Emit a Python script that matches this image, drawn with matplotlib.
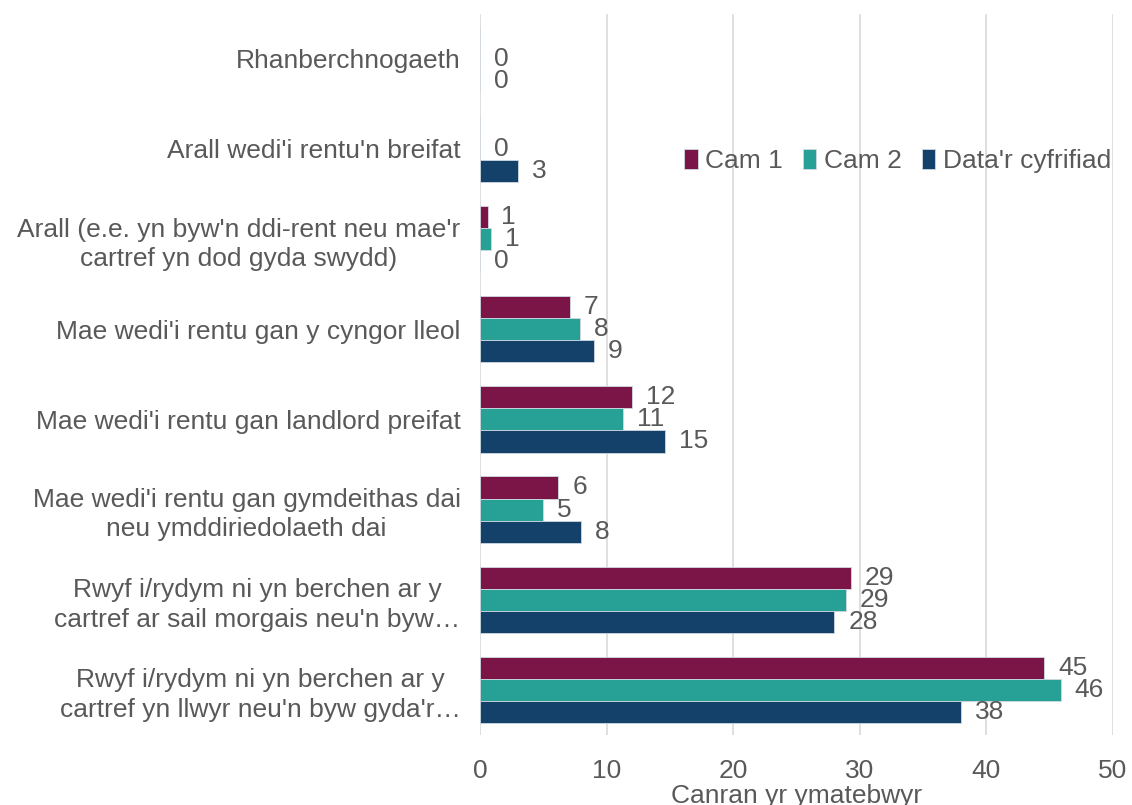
import numpy as np
import matplotlib.pyplot as plt

# categories, top to bottom
categories = [
    "Rhanberchnogaeth",
    "Arall wedi'i rentu'n breifat",
    "Arall (e.e. yn byw'n ddi-rent neu mae'r\ncartref yn dod gyda swydd)",
    "Mae wedi'i rentu gan y cyngor lleol",
    "Mae wedi'i rentu gan landlord preifat",
    "Mae wedi'i rentu gan gymdeithas dai\nneu ymddiriedolaeth dai",
    "Rwyf i/rydym ni yn berchen ar y\ncartref ar sail morgais neu'n byw…",
    "Rwyf i/rydym ni yn berchen ar y\ncartref yn llwyr neu'n byw gyda'r…",
]
series_names = ["Cam 1", "Cam 2", "Data'r cyfrifiad"]
cam1 = [np.nan, np.nan, 0.6, 7.1, 12.0, 6.2, 29.3, 44.6]
cam2 = [0.0, 0.0, 0.9, 7.9, 11.3, 5.0, 28.9, 45.9]
census = [0.0, 3.0, 0.0, 9.0, 14.6, 8.0, 28.0, 38.0]
colors = ["#7B1548", "#27A096", "#134169"]

plt.rcParams['font.family'] = ['Liberation Sans', 'DejaVu Sans']
text_col = "#595959"
fs = 19

fig = plt.figure(figsize=(11.32, 8.05), dpi=100)
ax = fig.add_axes([0.424, 0.087, 0.559, 0.896])

y = np.arange(len(categories))
h = 0.245
for k, (vals, name, col) in enumerate(zip([cam1, cam2, census], series_names, colors)):
    vals = np.array(vals, dtype=float)
    pos = y + (k - 1) * h
    bars = ax.barh(pos, np.nan_to_num(vals), height=h, color=col, label=name,
                   edgecolor="#d0d8e0", linewidth=0.6)
    labels = ["" if np.isnan(v) else f"{v:.0f}" for v in vals]
    ax.bar_label(bars, labels=labels, padding=10, fontsize=fs, color=text_col)

ax.set_yticks(y)
ax.set_yticklabels(categories, multialignment="center", linespacing=1.28)
ax.set_ylim(len(categories) - 0.5, -0.5)
ax.set_xlim(0, 50)
ax.set_xticks(range(0, 51, 10))
ax.tick_params(axis="both", length=0, labelsize=fs, colors=text_col)
ax.tick_params(axis="y", pad=14)
ax.tick_params(axis="x", pad=17)
ax.grid(axis="x", color="#d9d9d9", linewidth=1.2)
ax.set_axisbelow(True)
for s in ax.spines.values():
    s.set_visible(False)
ax.set_xlabel("Canran yr ymatebwyr", fontsize=fs, color=text_col, labelpad=1)

ax.legend(loc="upper right", bbox_to_anchor=(1.035, 0.846), ncol=3, frameon=False,
          fontsize=fs, handlelength=0.5, handleheight=0.8, handletextpad=0.3,
          columnspacing=0.75, labelcolor=text_col)

fig.savefig("out.png", dpi=100)
